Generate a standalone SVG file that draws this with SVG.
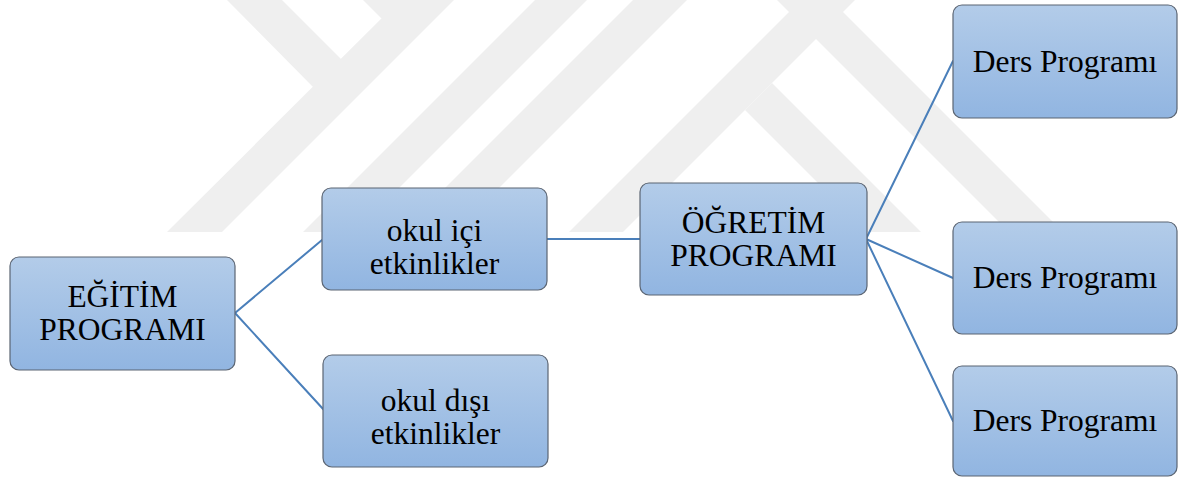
<svg xmlns="http://www.w3.org/2000/svg" width="1178" height="477" viewBox="0 0 1178 477">
  <defs>
    <linearGradient id="boxFill" x1="0" y1="0" x2="0" y2="1">
      <stop offset="0" stop-color="#b3cce9"/>
      <stop offset="1" stop-color="#91b5e1"/>
    </linearGradient>
    <style>
      .wm { fill: #efefef; stroke: none; }
      .box { fill: url(#boxFill); stroke: #5b6573; stroke-width: 1.2; }
      .lbl { font-family: 'Liberation Serif', 'DejaVu Serif', serif; font-size: 31.5px; fill: #000; text-anchor: middle; }
      .conn { stroke: #4a7fba; stroke-width: 2; fill: none; stroke-linecap: round; }
    </style>
  </defs>
  <rect x="0" y="0" width="1178" height="477" fill="#ffffff"/>

  <g id="watermark">
    <polygon class="wm" points="167,232 222,232 454,0 400,0"/>
    <polygon class="wm" points="227,0 282,0 342,60 314,88"/>
    <polygon class="wm" points="363,0 401,0 382,19"/>
    <polygon class="wm" points="303,232 355,232 587,0 535,0"/>
    <polygon class="wm" points="401,232 455,232 687,0 633,0"/>
    <polygon class="wm" points="569,232 623,232 855,0 801,0"/>
    <polygon class="wm" points="745,110 772,83 921,232 867,232"/>
    <polygon class="wm" points="777,0 831,0 1063,232 1009,232"/>
  </g>

  <g id="connectors">
    <line class="conn" x1="235" y1="313" x2="322" y2="240"/>
    <line class="conn" x1="235" y1="313" x2="324" y2="410"/>
    <line class="conn" x1="547" y1="239" x2="640" y2="239"/>
    <line class="conn" x1="866" y1="239" x2="953" y2="61"/>
    <line class="conn" x1="866" y1="239" x2="953" y2="278"/>
    <line class="conn" x1="866" y1="239" x2="953" y2="421"/>
  </g>

  <g font-family="Liberation Serif, DejaVu Serif, serif">
  <g id="node-egitim">
    <rect class="box" x="10" y="257" width="225" height="113" rx="9"/>
    <text class="lbl" x="122.5" y="307">EĞİTİM</text>
    <text class="lbl" x="122.5" y="340">PROGRAMI</text>
  </g>

  <g id="node-okul-ici">
    <rect class="box" x="322" y="188" width="225" height="102" rx="9"/>
    <text class="lbl" x="434.5" y="241">okul içi</text>
    <text class="lbl" x="434.5" y="274">etkinlikler</text>
  </g>

  <g id="node-okul-disi">
    <rect class="box" x="323" y="355" width="225" height="112" rx="9"/>
    <text class="lbl" x="435.5" y="411">okul dışı</text>
    <text class="lbl" x="435.5" y="444">etkinlikler</text>
  </g>

  <g id="node-ogretim">
    <rect class="box" x="640" y="183" width="227" height="112" rx="9"/>
    <text class="lbl" x="753.5" y="233">ÖĞRETİM</text>
    <text class="lbl" x="753.5" y="266">PROGRAMI</text>
  </g>

  <g id="node-ders-1">
    <rect class="box" x="953" y="5" width="224" height="113" rx="9"/>
    <text class="lbl" x="1065" y="72">Ders Programı</text>
  </g>

  <g id="node-ders-2">
    <rect class="box" x="953" y="222" width="224" height="112" rx="9"/>
    <text class="lbl" x="1065" y="288">Ders Programı</text>
  </g>

  <g id="node-ders-3">
    <rect class="box" x="953" y="366" width="224" height="110" rx="9"/>
    <text class="lbl" x="1065" y="431">Ders Programı</text>
  </g>
  </g>
</svg>
